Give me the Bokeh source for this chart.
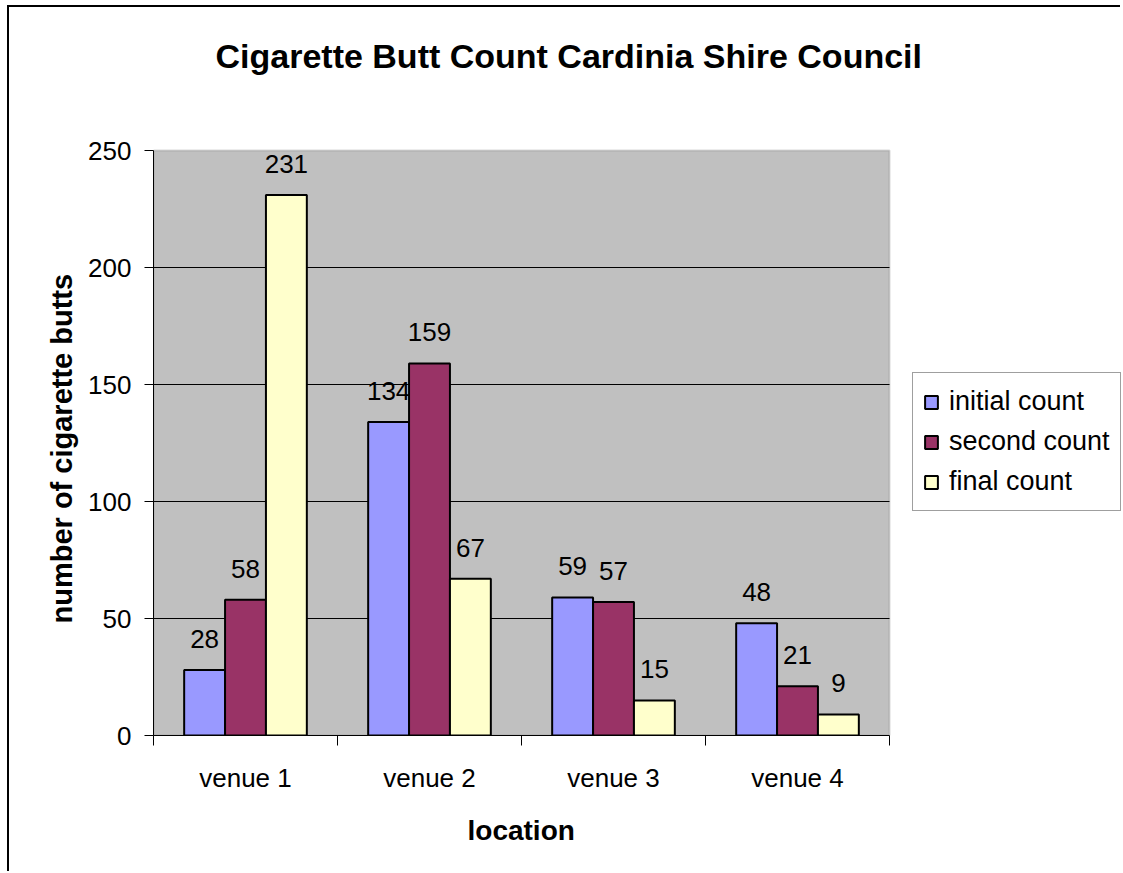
from bokeh.plotting import figure
from bokeh.models import (Range1d, FixedTicker, Legend, LegendItem, ColumnDataSource,
                          BoxAnnotation, Label, Title)
from bokeh.core.properties import value
from bokeh.embed import file_html
from bokeh.resources import INLINE

venues = ["venue 1", "venue 2", "venue 3", "venue 4"]
series_names = ["initial count", "second count", "final count"]
initial_count = [28, 134, 59, 48]
second_count = [58, 159, 57, 21]
final_count = [231, 67, 15, 9]
colors = ["#9999FF", "#993366", "#FFFFCC"]
y_ticks = [0, 50, 100, 150, 200, 250]
chart_title = "Cigarette Butt Count Cardinia Shire Council"
x_title = "location"
y_title = "number of cigarette butts"

FONT = "Liberation Sans"
OX, OY = 9, 7            # canvas offset inside the outer chart border
W, H = 1123 - OX - 1, 873 - OY
LEFT, BOTTOM = 153 - OX, 138
PLOT_W, PLOT_H = 736, 585  # pixel size of the grey plot area
YMAX = y_ticks[-1]
NCAT = len(venues)

frame_w = W - LEFT
frame_h = H - BOTTOM
x_end = NCAT * frame_w / PLOT_W
y_end = YMAX * frame_h / PLOT_H

p = figure(width=W, height=H, output_backend="svg", toolbar_location=None,
           x_range=Range1d(0, x_end), y_range=Range1d(0, y_end),
           min_border_left=LEFT, min_border_right=0, min_border_top=0,
           min_border_bottom=BOTTOM)
p.styles = {"border-left": "2px solid black", "border-top": "2px solid black",
            "margin-left": "7px", "margin-top": "5px"}
p.background_fill_color = "white"
p.border_fill_color = "white"
p.outline_line_color = None

# grey plot area with its border
p.add_layout(BoxAnnotation(left=0, right=NCAT, bottom=0, top=YMAX,
                           fill_color="#C0C0C0", fill_alpha=1,
                           line_color="#808080", line_width=2, level="underlay"))

# horizontal gridlines
grid_y = y_ticks[1:-1]
p.segment(x0=[0] * len(grid_y), x1=[NCAT] * len(grid_y), y0=grid_y, y1=grid_y,
          line_color="black", line_width=1)

bar_w = 1 / 4.5
series = [initial_count, second_count, final_count]
renderers = []
for k, (vals, col) in enumerate(zip(series, colors)):
    xs = [i + 0.5 + (k - 1) * bar_w for i in range(NCAT)]
    src = ColumnDataSource(dict(x=xs, top=vals, lab=[str(v) for v in vals]))
    r = p.vbar(x="x", top="top", width=bar_w, bottom=0, source=src,
               fill_color=col, line_color="black", line_width=2)
    renderers.append(r)
    p.text(x="x", y="top", text="lab", source=src, text_align="center",
           text_baseline="alphabetic", y_offset=-31, text_font=value(FONT),
           text_font_size="26px", text_color="black")

# axes
p.xaxis.bounds = (0, NCAT)
p.xaxis.ticker = FixedTicker(ticks=[i + 0.5 for i in range(NCAT)],
                             minor_ticks=list(range(NCAT + 1)))
p.xaxis.major_label_overrides = {i + 0.5: v for i, v in enumerate(venues)}
p.xaxis.major_tick_out = 0
p.xaxis.major_tick_in = 0
p.xaxis.minor_tick_out = 10
p.xaxis.minor_tick_in = 0
p.xaxis.minor_tick_line_color = "black"
p.xaxis.axis_line_color = "black"
p.xaxis.axis_line_width = 1
p.xaxis.major_label_text_font = FONT
p.xaxis.major_label_text_font_size = "26px"
p.xaxis.major_label_text_color = "black"
p.xaxis.major_label_standoff = 17

p.yaxis.bounds = (0, YMAX)
p.yaxis.ticker = FixedTicker(ticks=y_ticks, minor_ticks=[])
p.yaxis.major_tick_out = 9
p.yaxis.major_tick_in = 0
p.yaxis.major_tick_line_color = "black"
p.yaxis.axis_line_color = "black"
p.yaxis.major_label_text_font = FONT
p.yaxis.major_label_text_font_size = "26px"
p.yaxis.major_label_text_color = "black"
p.yaxis.major_label_standoff = 13

p.xgrid.visible = False
p.ygrid.visible = False

# axis titles, positioned along the grey plot area
p.add_layout(Title(text=x_title, align="left", offset=314, text_font=FONT,
                   text_font_size="28px", text_font_style="bold", text_color="black",
                   standoff=34), "below")
p.add_layout(Title(text=y_title, align="left", offset=112, text_font=FONT,
                   text_font_size="29px", text_font_style="bold", text_color="black",
                   standoff=16), "left")

# chart title (screen units relative to the frame's bottom-left)
p.add_layout(Label(x=62, y=680, x_units="screen", y_units="screen", text=chart_title,
                   text_align="left", text_baseline="alphabetic", text_font=FONT,
                   text_font_size="34px", text_font_style="bold", text_color="black"))

legend = Legend(items=[LegendItem(label=n, renderers=[r]) for n, r in zip(series_names, renderers)],
                location=(759, 224), margin=0, padding=10, spacing=3,
                label_height=37, glyph_width=16, glyph_height=16, label_standoff=10,
                label_text_font=FONT, label_text_font_size="27px", label_text_color="black",
                border_line_color="#404040", border_line_width=1,
                background_fill_color="white", background_fill_alpha=1)
p.add_layout(legend, "center")

open("out.html", "w").write(file_html(p, INLINE))
